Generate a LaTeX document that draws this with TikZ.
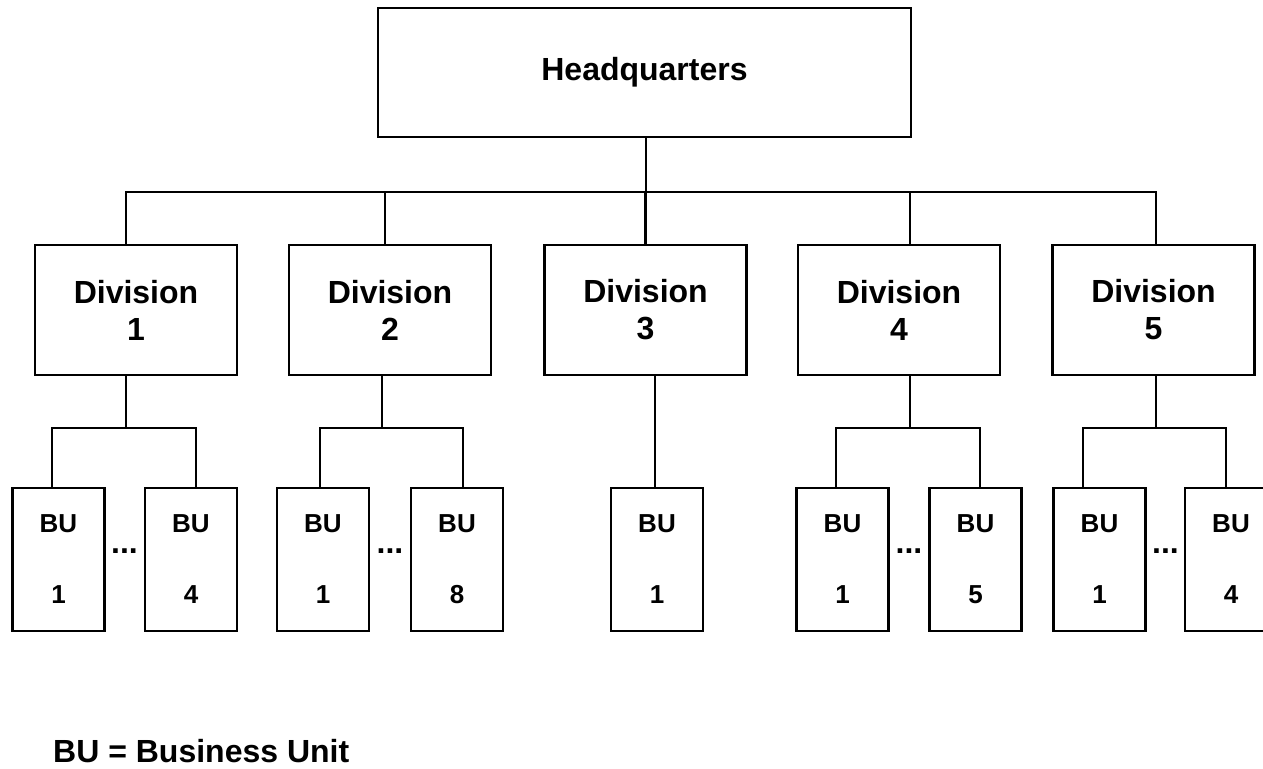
\documentclass[tikz,border=0pt]{standalone}
\usepackage{fontspec}
\setmainfont{Liberation Sans}
\usetikzlibrary{calc}
\begin{document}
\begin{tikzpicture}[x=1pt, y=-1pt,
  link/.style={line width=2.2pt, line cap=rect},
  box/.style={draw, line width=2.2pt, rectangle, inner sep=0pt, align=center},
  hqbox/.style={box, minimum width=533pt, minimum height=129pt,
    font=\fontsize{32}{37}\selectfont\bfseries},
  divbox/.style={box, minimum width=202pt, minimum height=130pt,
    font=\fontsize{32}{37}\selectfont\bfseries},
  bubox/.style={box, minimum width=92pt, minimum height=143pt,
    font=\fontsize{26}{71}\selectfont\bfseries},
  gap/.style={inner sep=0pt, anchor=base, font=\fontsize{32}{37}\selectfont\bfseries},
  legend/.style={inner sep=0pt, anchor=base west, font=\fontsize{32}{37}\selectfont\bfseries}]
\useasboundingbox (0,0) rectangle (1263,768);
\fill[white] (0,0) rectangle (1263,768);

% headquarters
\node[hqbox] (hq) at (644.5,72.5) {Headquarters};

% divisions
\node[divbox] (d1) at (136,310)    {Division\\1};
\node[divbox] (d2) at (390,310)    {Division\\2};
\node[divbox] (d3) at (645.5,310)  {Division\\3};
\node[divbox] (d4) at (899,310)    {Division\\4};
\node[divbox] (d5) at (1153.5,310) {Division\\5};

% business units
\node[bubox] (b11) at (58.5,559.5)  {BU\\1};
\node[bubox] (b14) at (191,559.5)   {BU\\4};
\node[bubox] (b21) at (323,559.5)   {BU\\1};
\node[bubox] (b28) at (457,559.5)   {BU\\8};
\node[bubox] (b31) at (657,559.5)   {BU\\1};
\node[bubox] (b41) at (842.5,559.5) {BU\\1};
\node[bubox] (b45) at (975.5,559.5) {BU\\5};
\node[bubox] (b51) at (1099.5,559.5){BU\\1};
\node[bubox] (b54) at (1231,559.5)  {BU\\4};

% ellipses between first and last unit
\node[gap] (g1) at (124.5,553) {...};
\node[gap] (g2) at (390,553)   {...};
\node[gap] (g4) at (909,553)   {...};
\node[gap] (g5) at (1165.5,553){...};

% headquarters to divisions
\coordinate (busL) at (126,192);
\coordinate (busR) at (1156,192);
\draw[link] (busL) -- (busR);
\draw[link] ([xshift=1.5pt]hq.south) -- ([xshift=1.5pt]hq.south |- busL);
\draw[link] ([xshift=-10pt]d1.north) -- ([xshift=-10pt]d1.north |- busL);
\draw[link] ([xshift=-5pt]d2.north) -- ([xshift=-5pt]d2.north |- busL);
\draw[link] (d3.north) -- (d3.north |- busL);
\draw[link] ([xshift=11pt]d4.north) -- ([xshift=11pt]d4.north |- busL);
\draw[link] ([xshift=2.5pt]d5.north) -- ([xshift=2.5pt]d5.north |- busL);

% divisions to business units
\draw[link] ([xshift=-10pt]d1.south) -- ++(0,52) coordinate (j1);
\draw[link] ([xshift=-6.5pt]b11.north) |- (j1) -| ([xshift=5pt]b14.north);

\draw[link] ([xshift=-8pt]d2.south) -- ++(0,52) coordinate (j2);
\draw[link] ([xshift=-3pt]b21.north) |- (j2) -| ([xshift=6pt]b28.north);

\draw[link] ([xshift=9.5pt]d3.south) -- ([xshift=9.5pt]d3.south |- b31.north);

\draw[link] ([xshift=11pt]d4.south) -- ++(0,52) coordinate (j4);
\draw[link] ([xshift=-6.5pt]b41.north) |- (j4) -| ([xshift=4.5pt]b45.north);

\draw[link] ([xshift=2.5pt]d5.south) -- ++(0,52) coordinate (j5);
\draw[link] ([xshift=-16.5pt]b51.north) |- (j5) -| ([xshift=-5pt]b54.north);

% legend
\node[legend] (key) at (53,762) {BU = Business Unit};
\end{tikzpicture}
\end{document}
